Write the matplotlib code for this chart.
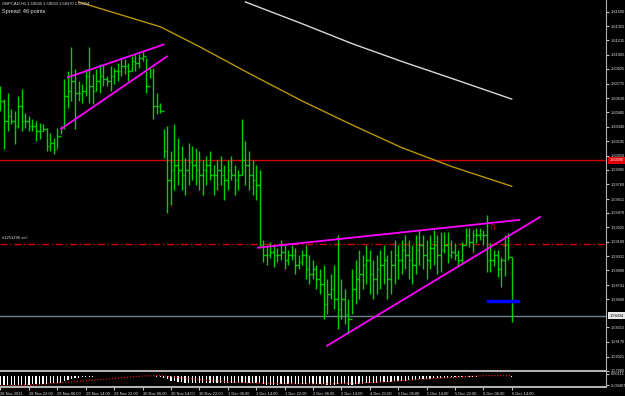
import matplotlib
matplotlib.use("Agg")
import matplotlib.pyplot as plt
import numpy as np

# GBPCAD H1 bars (index 0 = 28 Nov 14:00)
highs = [
    1.6075, 1.6062, 1.6068, 1.6052, 1.6050, 1.6065, 1.6072, 1.6048, 1.6045, 1.6042,
    1.6040, 1.6038, 1.6037, 1.6033, 1.6028, 1.6023, 1.6033, 1.6035, 1.6082, 1.6090,
    1.6115, 1.6092, 1.6080, 1.6077, 1.6092, 1.6115, 1.6087, 1.6092, 1.6097, 1.6097,
    1.6085, 1.6095, 1.6093, 1.6098, 1.6103, 1.6102, 1.6098, 1.6105, 1.6107, 1.6107,
    1.6110, 1.6103, 1.6093, 1.6093, 1.6068, 1.6058, 1.6032, 1.6035, 1.6010, 1.6037,
    1.6023, 1.6015, 1.6003, 1.6018, 1.6015, 1.6013, 1.6010, 1.6000, 1.6005, 1.6010,
    1.5995, 1.6000, 1.6005, 1.5995, 1.6000, 1.6005, 1.5995, 1.5990, 1.6042, 1.6020,
    1.6010, 1.6000, 1.5995, 1.5990, 1.5920, 1.5915, 1.5918, 1.5915, 1.5912, 1.5920,
    1.5915, 1.5910, 1.5915, 1.5912, 1.5905, 1.5910, 1.5915, 1.5905, 1.5900, 1.5895,
    1.5890, 1.5895, 1.5880, 1.5885, 1.5895, 1.5925, 1.5880, 1.5870, 1.5860, 1.5890,
    1.5900, 1.5910, 1.5905, 1.5915, 1.5910, 1.5900, 1.5905, 1.5910, 1.5915, 1.5905,
    1.5910, 1.5920, 1.5915, 1.5920, 1.5925, 1.5920, 1.5915, 1.5925, 1.5930, 1.5925,
    1.5920, 1.5925, 1.5930, 1.5925, 1.5928, 1.5928, 1.5928, 1.5920, 1.5917, 1.5910,
    1.5918, 1.5932, 1.5932, 1.5930, 1.5932, 1.5932, 1.5930, 1.5945, 1.5917, 1.5910,
    1.5910, 1.5903, 1.5925, 1.5927, 1.5903,
]
lows = [
    1.6050, 1.6012, 1.6030, 1.6037, 1.6017, 1.6033, 1.6030, 1.6033, 1.6030, 1.6030,
    1.6020, 1.6022, 1.6030, 1.6010, 1.6010, 1.6007, 1.6013, 1.6027, 1.6032, 1.6053,
    1.6060, 1.6032, 1.6060, 1.6058, 1.6065, 1.6058, 1.6057, 1.6070, 1.6068, 1.6075,
    1.6075, 1.6070, 1.6077, 1.6080, 1.6085, 1.6087, 1.6080, 1.6090, 1.6090, 1.6093,
    1.6100, 1.6068, 1.6083, 1.6042, 1.6047, 1.6048, 1.6003, 1.5947, 1.5955, 1.5970,
    1.5975, 1.5970, 1.5965, 1.5975, 1.5980, 1.5975, 1.5970, 1.5965, 1.5975, 1.5980,
    1.5965, 1.5970, 1.5975, 1.5960, 1.5970, 1.5980, 1.5965, 1.5970, 1.5985, 1.5975,
    1.5970, 1.5965, 1.5960, 1.5912, 1.5898, 1.5895, 1.5902, 1.5892, 1.5898, 1.5900,
    1.5890, 1.5895, 1.5900, 1.5885, 1.5890, 1.5895, 1.5880, 1.5875, 1.5880, 1.5870,
    1.5865, 1.5840, 1.5845, 1.5860, 1.5850, 1.5830, 1.5840, 1.5835, 1.5825, 1.5845,
    1.5855, 1.5860, 1.5870, 1.5875, 1.5865, 1.5860, 1.5865, 1.5870, 1.5875, 1.5860,
    1.5865, 1.5875, 1.5880, 1.5885, 1.5890, 1.5880, 1.5875, 1.5885, 1.5895, 1.5890,
    1.5880, 1.5890, 1.5895, 1.5885, 1.5887, 1.5907, 1.5897, 1.5902, 1.5900, 1.5892,
    1.5897, 1.5915, 1.5913, 1.5908, 1.5917, 1.5920, 1.5915, 1.5887, 1.5887, 1.5893,
    1.5882, 1.5872, 1.5883, 1.5900, 1.58370,
]
closes = [
    1.6060, 1.6040, 1.6045, 1.6040, 1.6035, 1.6055, 1.6040, 1.6040, 1.6035, 1.6035,
    1.6030, 1.6030, 1.6032, 1.6015, 1.6018, 1.6012, 1.6025, 1.6033, 1.6065, 1.6070,
    1.6080, 1.6068, 1.6068, 1.6070, 1.6085, 1.6075, 1.6070, 1.6080, 1.6085, 1.6082,
    1.6080, 1.6085, 1.6090, 1.6090, 1.6095, 1.6095, 1.6090, 1.6100, 1.6098, 1.6103,
    1.6105, 1.6075, 1.6088, 1.6055, 1.6055, 1.6050, 1.6010, 1.5980, 1.5990, 1.5995,
    1.5990, 1.5985, 1.5990, 1.5998, 1.5995, 1.5990, 1.5985, 1.5990, 1.5995, 1.5985,
    1.5985, 1.5990, 1.5985, 1.5980, 1.5990, 1.5985, 1.5980, 1.5985, 1.6000, 1.5995,
    1.5985, 1.5980, 1.5975, 1.5915, 1.5905, 1.5905, 1.5908, 1.5905, 1.5905, 1.5908,
    1.5900, 1.5905, 1.5905, 1.5895, 1.5898, 1.5905, 1.5890, 1.5885, 1.5890, 1.5880,
    1.5875, 1.5855, 1.5865, 1.5870, 1.5860, 1.5850, 1.5860, 1.5845, 1.5840, 1.5870,
    1.5880, 1.5885, 1.5895, 1.5900, 1.5885, 1.5880, 1.5890, 1.5895, 1.5900, 1.5880,
    1.5895, 1.5905, 1.5900, 1.5910, 1.5905, 1.5900, 1.5895, 1.5910, 1.5915, 1.5905,
    1.5900, 1.5912, 1.5915, 1.5905, 1.5910, 1.5915, 1.5905, 1.5908, 1.5905, 1.5900,
    1.5915, 1.5925, 1.5918, 1.5925, 1.5925, 1.5925, 1.5925, 1.5900, 1.5900, 1.5905,
    1.5890, 1.5900, 1.5915, 1.5903, 1.58434,
]
first_open = 1.6065

# moving averages (bar index, price)
ma_slow_idx = [22, 45, 56, 70, 85, 99, 113, 127, 144]
ma_slow = [1.6160, 1.6135, 1.6115, 1.6088, 1.6060, 1.6036, 1.6013, 1.5994, 1.5974]
ma_fast_idx = [69, 85, 99, 113, 127, 144]
ma_fast = [1.6160, 1.6138, 1.6118, 1.6100, 1.6083, 1.6062]

# trend lines drawn on the chart: (i0, p0, i1, p1)
trendlines = [
    (19.0, 1.6084, 45.9, 1.6117),
    (17.1, 1.6032, 46.9, 1.6105),
    (72.5, 1.5912, 146.1, 1.5940),
    (92.0, 1.5813, 152.0, 1.5943),
]
level_red = 1.60000
level_order = 1.59160
level_bid = 1.58434
blue_seg = (137.2, 145.9, 1.5858)

# MACD window (units of 1e-5)
macd_hist = [
    -400, -405, -400, -395, -390, -385, -380, -375, -370, -365,
    -360, -350, -340, -330, -320, -310, -300, -290,
    -220, -160, -100, -70, -50, -40, -20, -10, -5, 0,
    0, 5, 5, 10, 10, 15, 20, 20, 20, 25,
    30, 30, 20, 25, 10, 0, -10, -15,
    -60, -130, -190, -220, -250, -270, -290, -300, -300, -305,
    -310, -315, -310, -310, -315, -320, -320, -315, -310, -305,
    -300, -300, -290, -285, -280, -280, -280,
    -320, -360, -370, -370, -370, -370, -365, -360, -360, -360,
    -355, -350, -350, -350, -350, -350, -350, -355, -360, -370,
    -375, -370, -365, -360, -365, -370, -375, -365, -350, -335,
    -320, -305, -295, -285, -275, -260, -250, -240, -230, -220,
    -210, -195, -180, -165, -150, -135, -120, -110, -100, -90,
    -80, -70, -60, -50, -45, -40, -35, -30, -25, -20,
    -10, -5, 0, 5, 10, 15, 20, 20, 15, 10,
    5, -20,
]
signal_idx = [0, 10, 20, 30, 40, 45, 50, 60, 70, 80, 90, 100, 110, 120, 130, 137, 144]
signal_val = [-430, -380, -250, -120, 20, 40, -50, -200, -290, -330, -340, -310, -230, -120, -20, 40, 30]

price_ticks = [1.61500, 1.61355, 1.61215, 1.61065, 1.60925, 1.60775, 1.60630, 1.60485,
               1.60340, 1.60195, 1.60050, 1.59905, 1.59760, 1.59611, 1.59470, 1.59325,
               1.59180, 1.59031, 1.58890, 1.58741, 1.58600, 1.58315, 1.58170,
               1.58021, 1.57880]
time_labels = ["28 Nov 2011", "28 Nov 22:00", "29 Nov 06:00", "29 Nov 14:00", "29 Nov 22:00",
               "30 Nov 06:00", "30 Nov 14:00", "30 Nov 22:00", "1 Dec 06:00", "1 Dec 14:00",
               "1 Dec 22:00", "2 Dec 06:00", "2 Dec 14:00", "4 Dec 21:00", "5 Dec 06:00",
               "5 Dec 14:00", "5 Dec 22:00", "6 Dec 06:00", "6 Dec 14:00"]
time_pos = list(range(0, 145, 8))

plt.rcParams["font.family"] = ["Liberation Sans", "DejaVu Sans"]

W, H = 625, 396
fig = plt.figure(figsize=(W / 100, H / 100), dpi=100, facecolor="black")
ax = fig.add_axes([0, 1 - 371 / H, 606 / W, 371 / H], facecolor="black")
ax2 = fig.add_axes([0, 1 - 387 / H, 606 / W, 15 / H], facecolor="black")

xlo, xhi = -0.14, 170.56
idx = np.arange(len(closes))
opens = [first_open] + closes[:-1]

# price pane
ax.axhline(level_red, color="#d00000", lw=1)
ax.axhline(level_order, color="#d00000", lw=1, dashes=(5, 2, 1, 2))
ax.axhline(level_bid, color="#708090", lw=1)
ax.plot(ma_slow_idx, ma_slow, color="#b8940a", lw=1)
ax.plot(ma_fast_idx, ma_fast, color="#d8d8d8", lw=1)
ax.vlines(idx, lows, highs, color="#00d000", lw=1)
ax.hlines(opens, idx - 0.45, idx, color="#00d000", lw=1)
ax.hlines(closes, idx, idx + 0.45, color="#00d000", lw=1)
for i0, p0, i1, p1 in trendlines:
    ax.plot([i0, i1], [p0, p1], color="#ff00ff", lw=1.3)
ax.plot([blue_seg[0], blue_seg[1]], [blue_seg[2], blue_seg[2]], color="#0000ff", lw=2.5)
ax.text(138.7, 1.5933, "\u220f", color="#d00000", fontsize=4, ha="center", va="center",
        family="DejaVu Sans")
ax.text(141.8, 1.5914, "x", color="#e04000", fontsize=3.5, ha="center", va="center")
ax.text(0.5, 1.59195, "#1251296 sell", color="#d8d8d8", fontsize=3, va="bottom")

ax.set_xlim(xlo, xhi)
ax.set_ylim(1.57875, 1.61620)
ax.yaxis.tick_right()
ax.set_yticks(price_ticks)
ax.set_yticklabels(["%.5f" % v for v in price_ticks])
ax.tick_params(axis="y", colors="#c0c0c0", labelsize=2.8, length=2, pad=1.5, labelcolor="#e0e0e0")
ax.set_xticks([])
for s in ["top", "left"]:
    ax.spines[s].set_visible(False)
ax.spines["right"].set_color("#b0b0b0")
ax.spines["bottom"].set_color("#b0b0b0")
ax.spines["bottom"].set_linewidth(1.5)

# price labels on the scale
ytr = ax.get_yaxis_transform()
ax.text(1 + 3.5 / 606, level_red, "1.60000", transform=ytr, clip_on=False, color="white",
        fontsize=2.8, va="center", bbox=dict(facecolor="#e00000", edgecolor="none", pad=0.8))
ax.text(1 + 3.5 / 606, level_bid, "1.58434", transform=ytr, clip_on=False, color="black",
        fontsize=2.8, va="center", bbox=dict(facecolor="#e8e8e8", edgecolor="none", pad=0.8))

# MACD pane
hist = np.array(macd_hist) * 1e-5
ax2.bar(idx, hist, width=0.35, color="white", linewidth=0)
ax2.plot(signal_idx, np.array(signal_val) * 1e-5, color="#ff2020", lw=0.8, ls=":")
ax2.set_xlim(xlo, xhi)
ax2.set_ylim(-0.0048, 0.0020)
ax2.yaxis.tick_right()
ax2.set_yticks([0.00115, -0.00407])
ax2.set_yticklabels(["0.00115", "-0.00407"])
ax2.tick_params(axis="y", colors="#c0c0c0", labelsize=2.8, length=2, pad=1.5, labelcolor="#e0e0e0")
ax2.set_xticks(time_pos)
ax2.set_xticklabels(time_labels, ha="left")
ax2.tick_params(axis="x", colors="#c0c0c0", labelsize=2.9, length=2, pad=1.5, labelcolor="#e0e0e0")
ax2.spines["top"].set_visible(False)
ax2.spines["left"].set_visible(False)
ax2.spines["right"].set_color("#b0b0b0")
ax2.spines["bottom"].set_color("#b0b0b0")
ax2.spines["bottom"].set_linewidth(1.5)

# header
fig.text(2 / W, 1 - 4 / H, "GBPCAD,H1 1.59030 1.59030 1.58370 1.58434", color="#e0e0e0",
         fontsize=3, va="center")
fig.text(2 / W, 1 - 11 / H, "Spread: 46 points", color="#e8e8e8", fontsize=4, va="center")

fig.savefig("out.png", dpi=100, facecolor="black")
